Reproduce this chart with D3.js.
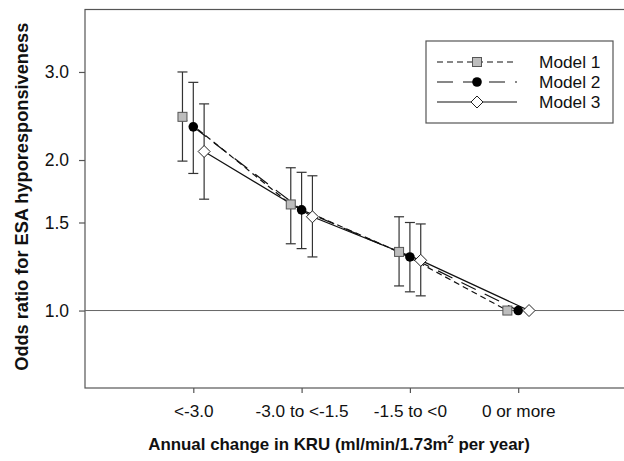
<!DOCTYPE html>
<html>
<head>
<meta charset="utf-8">
<script src="https://cdn.jsdelivr.net/npm/d3@7"></script>
<style>
  html, body { margin: 0; padding: 0; background: #fff; }
  svg { display: block; font-family: "Liberation Sans", Arial, sans-serif; }
</style>
</head>
<body>
<svg id="chart" width="624" height="461"></svg>
<script>
// ---- data ----
const categories = ["<-3.0", "-3.0 to <-1.5", "-1.5 to <0", "0 or more"];
const modelNames = ["Model 1", "Model 2", "Model 3"];
const model1OR = [2.44, 1.63, 1.31, 1.0];
const model1Lo = [1.99, 1.36, 1.12, null];
const model1Hi = [3.00, 1.93, 1.54, null];
const model2OR = [2.33, 1.59, 1.28, 1.0];
const model2Lo = [1.88, 1.33, 1.09, null];
const model2Hi = [2.86, 1.89, 1.50, null];
const model3OR = [2.08, 1.54, 1.26, 1.0];
const model3Lo = [1.67, 1.28, 1.07, null];
const model3Hi = [2.59, 1.86, 1.49, null];
const modelOffsets = [-0.1, 0, 0.1];
const yTickValues = [1.0, 1.5, 2.0, 3.0];
const yTickLabels = ["1.0", "1.5", "2.0", "3.0"];

const models = [
  { name: modelNames[0], or: model1OR, lo: model1Lo, hi: model1Hi, off: modelOffsets[0], marker: "square", dash: "6,4" },
  { name: modelNames[1], or: model2OR, lo: model2Lo, hi: model2Hi, off: modelOffsets[1], marker: "circle", dash: "16,10" },
  { name: modelNames[2], or: model3OR, lo: model3Lo, hi: model3Hi, off: modelOffsets[2], marker: "diamond", dash: null }
];

// ---- layout ----
const svg = d3.select("#chart");
const pL = 85, pR = 626.5, pT = 9.5, pB = 388;
const x = d3.scaleLinear().domain([0, 5]).range([pL, pR]);
const y = d3.scaleLog().domain([0.7, 4.0]).range([pB, pT]);
const axisColor = "#555";

// frame
svg.append("rect").attr("x", pL).attr("y", pT)
  .attr("width", pR - pL).attr("height", pB - pT)
  .attr("fill", "none").attr("stroke", axisColor).attr("stroke-width", 1.2);

// reference line at 1.0
svg.append("line").attr("x1", pL).attr("x2", pR)
  .attr("y1", y(1)).attr("y2", y(1))
  .attr("stroke", "#666").attr("stroke-width", 1);

// y axis
const yAxis = d3.axisLeft(y).tickValues(yTickValues)
  .tickFormat((d, i) => yTickLabels[i]).tickSize(6).tickPadding(10);
const gy = svg.append("g").attr("transform", `translate(${pL},0)`).call(yAxis);
gy.select(".domain").remove();
gy.selectAll("line").attr("stroke", axisColor).attr("stroke-width", 1.2);
gy.selectAll("text").attr("font-size", 17.5).attr("fill", "#111")
  .attr("font-family", "'Liberation Sans', Arial, sans-serif");

// x axis
const xAxis = d3.axisBottom(x).tickValues([1, 2, 3, 4])
  .tickFormat((d) => categories[d - 1]).tickSize(5).tickPadding(12);
const gx = svg.append("g").attr("transform", `translate(0,${pB})`).call(xAxis);
gx.select(".domain").remove();
gx.selectAll("line").attr("stroke", axisColor).attr("stroke-width", 1.2);
gx.selectAll("text").attr("font-size", 17.2).attr("fill", "#111")
  .attr("font-family", "'Liberation Sans', Arial, sans-serif");

// axis titles
svg.append("text")
  .attr("transform", `translate(28,${(pT + pB) / 2 - 2}) rotate(-90)`)
  .attr("text-anchor", "middle").attr("font-size", 18.2).attr("font-weight", "bold")
  .attr("fill", "#111")
  .text("Odds ratio for ESA hyporesponsiveness");

const xt = svg.append("text")
  .attr("x", 339).attr("y", 450)
  .attr("text-anchor", "middle").attr("font-size", 16.9).attr("font-weight", "bold")
  .attr("fill", "#111");
xt.append("tspan").text("Annual change in KRU (ml/min/1.73m");
xt.append("tspan").attr("dy", -7).attr("font-size", 11).text("2");
xt.append("tspan").attr("dy", 7).text(" per year)");

// marker drawing
function drawMarker(g, type, cx, cy) {
  if (type === "square") {
    g.append("rect").attr("x", cx - 4.5).attr("y", cy - 4.5).attr("width", 9).attr("height", 9)
      .attr("fill", "#bdbdbd").attr("stroke", "#555").attr("stroke-width", 1);
  } else if (type === "circle") {
    g.append("circle").attr("cx", cx).attr("cy", cy).attr("r", 4.8).attr("fill", "#000");
  } else {
    const r = 6;
    g.append("path").attr("d", `M${cx},${cy - r}L${cx + r},${cy}L${cx},${cy + r}L${cx - r},${cy}Z`)
      .attr("fill", "#fff").attr("stroke", "#222").attr("stroke-width", 1);
  }
}

// error bars
const ebar = svg.append("g");
models.forEach((m) => {
  m.or.forEach((v, i) => {
    if (m.lo[i] == null) return;
    const cx = x(i + 1 + m.off);
    ebar.append("line").attr("x1", cx).attr("x2", cx).attr("y1", y(m.lo[i])).attr("y2", y(m.hi[i]))
      .attr("stroke", "#333").attr("stroke-width", 1.2);
    [m.lo[i], m.hi[i]].forEach((b) => {
      ebar.append("line").attr("x1", cx - 5).attr("x2", cx + 5).attr("y1", y(b)).attr("y2", y(b))
        .attr("stroke", "#333").attr("stroke-width", 1.2);
    });
  });
});

// lines
const lineGen = d3.line().x((d) => x(d.i + 1 + d.off)).y((d) => y(d.v));
models.forEach((m) => {
  const pts = m.or.map((v, i) => ({ v, i, off: m.off }));
  svg.append("path").attr("d", lineGen(pts)).attr("fill", "none")
    .attr("stroke", "#111").attr("stroke-width", 1.2)
    .attr("stroke-dasharray", m.dash);
});

// markers
const mk = svg.append("g");
models.forEach((m) => {
  m.or.forEach((v, i) => drawMarker(mk, m.marker, x(i + 1 + m.off), y(v)));
});

// legend
const lg = svg.append("g");
lg.append("rect").attr("x", 426).attr("y", 41).attr("width", 187).attr("height", 82)
  .attr("fill", "#fff").attr("stroke", "#555").attr("stroke-width", 1.2);
models.forEach((m, k) => {
  const ly = 62 + k * 20;
  lg.append("line").attr("x1", 437).attr("x2", 517).attr("y1", ly).attr("y2", ly)
    .attr("stroke", "#111").attr("stroke-width", 1.2).attr("stroke-dasharray", m.dash);
  drawMarker(lg, m.marker, 477, ly);
  lg.append("text").attr("x", 539).attr("y", ly + 6).attr("font-size", 17.3).attr("fill", "#111")
    .text(m.name);
});
</script>
</body>
</html>
